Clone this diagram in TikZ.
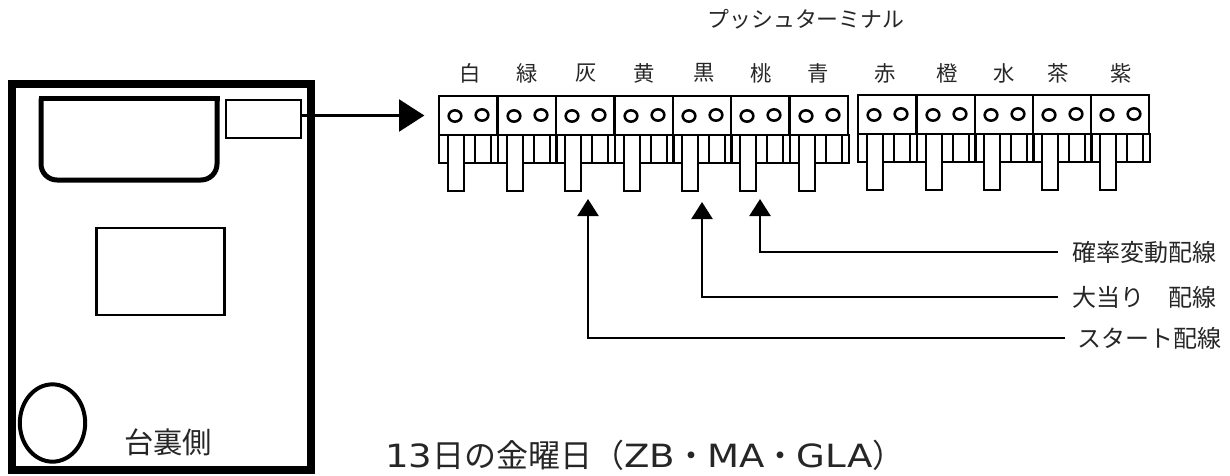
\documentclass[tikz,border=0pt]{standalone}
\usepackage{fontspec}
\setmainfont{Noto Sans CJK JP}
\newfontfamily\latinfont[FakeStretch=1.16]{DejaVu Sans}
\usetikzlibrary{arrows.meta, positioning, calc, shapes.geometric}

\begin{document}
\begin{tikzpicture}[
    x=0.75pt, y=-0.75pt,
    board/.style={draw, line width=6pt},
    part/.style={draw, line width=1.7pt, inner sep=0pt, outer sep=0pt},
    cell/.style={draw, line width=1.7pt, inner sep=0pt, outer sep=0pt, minimum width=43.5pt, minimum height=29.25pt},
    hole/.style={draw, ellipse, line width=1.9pt, inner sep=0pt, minimum width=9.5pt, minimum height=8.5pt},
    pin/.style={draw, fill=white, line width=1.7pt},
    wire/.style={line width=1.8pt, -{Triangle[length=12.75pt, width=15.75pt]}},
    colorname/.style={font=\fontsize{16pt}{16pt}\selectfont, inner sep=0pt, text=black!85},
    wirename/.style={font=\fontsize{18pt}{18pt}\selectfont, anchor=west, inner sep=0pt, outer sep=11pt, text=black!85}
]
    \useasboundingbox (0,0) rectangle (1230,475);

    % Board
    \node[board, inner sep=0pt, outer sep=0pt, minimum width=224.25pt, minimum height=289.5pt] (boardbox) at (161.5,277) {};
    \draw[line width=3.75pt, rounded corners=12pt] (217,98.5) -- (217,180) -- (41,180) -- (41,98.5);
    \draw[line width=3.75pt, line cap=rect] (41,98.5) -- (217,98.5);
    \node[part, minimum width=56.25pt, minimum height=28.5pt] (conn) at (263.5,119) {};
    \node[part, minimum width=96pt, minimum height=65pt] (chip) at (160.5,271.5) {};
    \node[draw, ellipse, line width=3pt, inner sep=0pt, minimum width=49pt, minimum height=58pt] (knob) at (52.5,423) {};
    \node[font=\fontsize{22pt}{22pt}\selectfont, inner sep=0pt, text=black!85] (side) at (168,442) {台裏側};

    % Terminals
    \foreach \n/\x/\y in {1/439/96, 2/498/96, 3/556/96, 4/615/96, 5/673/96, 6/731/96, 7/790/96,
                          8/858/95, 9/917/95, 10/975/95, 11/1033/95, 12/1091/95} {
        \draw[line width=1.7pt] (\x,\y+39) rectangle (\x+59,\y+67);
        \foreach \s in {36,52} \draw[line width=1.7pt] (\x+\s,\y+39) -- (\x+\s,\y+67);
        \draw[pin] (\x+9,\y+39) rectangle (\x+25,\y+95);
        \node[cell, anchor=north west] (term\n) at (\x,\y) {};
        \node[hole] (holea\n) at (\x+16,\y+20) {};
        \node[hole] (holeb\n) at (\x+43,\y+19) {};
    }

    % Colour names
    \foreach \n/\x/\c in {1/470/白, 2/527/緑, 3/586/灰, 4/644/黄, 5/704/黒, 6/761/桃, 7/818/青,
                          8/885/赤, 9/947/橙, 10/1004/水, 11/1058/茶, 12/1121/紫} {
        \node[colorname] (name\n) at (\x,73) {\c};
    }
    \node[colorname, font=\fontsize{16.4pt}{16.4pt}\selectfont] (title) at (806,19) {プッシュターミナル};

    % Wires
    \draw[line width=1.8pt, -{Triangle[length=19pt, width=24pt]}, shorten >=11pt] (conn.east |- term1.west) -- (term1.west);
    \coordinate (tipa) at (760,199);
    \coordinate (tipb) at (702,202);
    \coordinate (tipc) at (588,199);
    \node[wirename] (rate) at (1058,252) {確率変動配線};
    \node[wirename] (hit) at (1058,297) {大当り　配線};
    \node[wirename, outer sep=9pt] (start) at (1065,338) {スタート配線};
    \draw[wire] (rate.west) -| (tipa);
    \draw[wire] (hit.west) -| (tipb);
    \draw[wire] (start.west) -| (tipc);

    % Model name
    \node[font=\fontsize{24pt}{24pt}\selectfont, anchor=west, inner sep=0pt, text=black!85] (model) at (385,455) {{\latinfont 13}日の金曜日（{\latinfont ZB}・{\latinfont MA}・{\latinfont GLA}）};
\end{tikzpicture}
\end{document}
